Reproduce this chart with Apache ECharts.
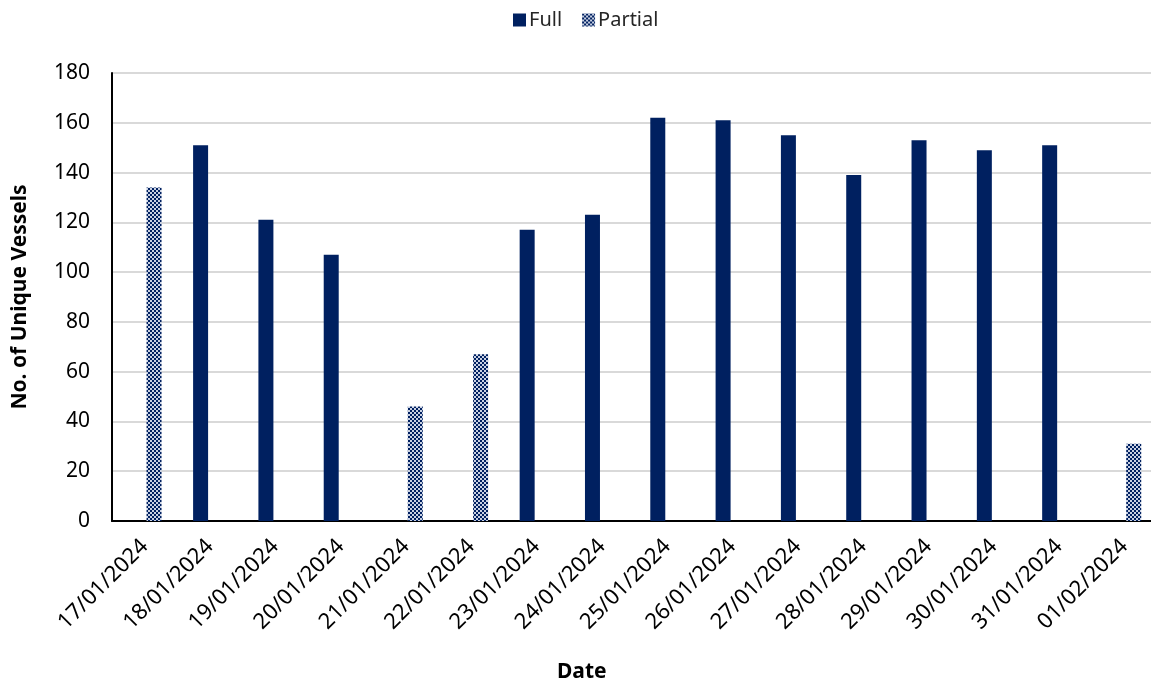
<!DOCTYPE html>
<html>
<head>
<meta charset="utf-8">
<script src="https://cdn.jsdelivr.net/npm/echarts@6/dist/echarts.min.js"></script>
<style>
  html, body { margin: 0; padding: 0; background: #ffffff; }
  #chart { width: 1151px; height: 686px; }
</style>
</head>
<body>
<div id="chart"></div>
<script>
// Daily vessel counts, split by full-day and partial-day coverage
const dates = ['17/01/2024', '18/01/2024', '19/01/2024', '20/01/2024', '21/01/2024', '22/01/2024',
  '23/01/2024', '24/01/2024', '25/01/2024', '26/01/2024', '27/01/2024', '28/01/2024',
  '29/01/2024', '30/01/2024', '31/01/2024', '01/02/2024'];
const fullCounts = [null, 151, 121, 107, null, null, 117, 123, 162, 161, 155, 139, 153, 149, 151, null];
const partialCounts = [134, null, null, null, 46, 67, null, null, null, null, null, null, null, null, null, 31];
const yTicks = { min: 0, max: 180, step: 20 };

const NAVY = '#002060';
const FONT = 'Noto Sans';

// Small checkerboard fill used for partial-day bars
function checkerPattern() {
  const c = document.createElement('canvas');
  c.width = 4; c.height = 4;
  const ctx = c.getContext('2d');
  ctx.fillStyle = '#c9d1e3';
  ctx.fillRect(0, 0, 4, 4);
  ctx.fillStyle = NAVY;
  ctx.fillRect(0, 0, 2, 2);
  ctx.fillRect(2, 2, 2, 2);
  return { image: c, repeat: 'repeat' };
}

const chart = echarts.init(document.getElementById('chart'));
chart.setOption({
  animation: false,
  backgroundColor: '#ffffff',
  textStyle: { fontFamily: FONT },
  legend: {
    top: 5,
    left: 508,
    itemWidth: 13,
    itemHeight: 13,
    itemGap: 20,
    icon: 'rect',
    textStyle: { fontFamily: FONT, fontSize: 20, color: '#262626', padding: [0, 0, 0, -2] },
    data: ['Full', 'Partial']
  },
  grid: {
    left: 112, top: 73, bottom: 165, right: -6,
    containLabel: false,
    outerBoundsMode: 'none'
  },
  xAxis: {
    type: 'category',
    data: dates,
    axisLine: { lineStyle: { color: '#000000', width: 2 } },
    axisTick: { show: false },
    axisLabel: {
      rotate: 45,
      margin: 22,
      fontFamily: FONT,
      fontSize: 22,
      color: '#000000',
      interval: 0
    }
  },
  yAxis: {
    type: 'value',
    min: yTicks.min,
    max: yTicks.max,
    interval: yTicks.step,
    name: 'No. of Unique Vessels',
    nameLocation: 'middle',
    nameGap: 81,
    nameRotate: 90,
    nameTextStyle: { fontFamily: FONT, fontSize: 21, fontWeight: 'bold', color: '#000000' },
    axisLine: { show: true, lineStyle: { color: '#000000', width: 2 } },
    axisTick: { show: false },
    axisLabel: { margin: 22, fontFamily: FONT, fontSize: 21, color: '#000000' },
    splitLine: { lineStyle: { color: '#d9d9d9', width: 2 } }
  },
  graphic: [{
    type: 'text',
    left: 557,
    top: 662,
    style: { text: 'Date', font: 'bold 21px "Noto Sans"', fill: '#000000' }
  }],
  series: [
    {
      name: 'Full',
      type: 'bar',
      data: fullCounts,
      barWidth: 15,
      barGap: '25%',
      itemStyle: { color: NAVY }
    },
    {
      name: 'Partial',
      type: 'bar',
      data: partialCounts,
      barWidth: 15,
      barGap: '25%',
      itemStyle: { color: checkerPattern() }
    }
  ]
});
</script>
</body>
</html>
